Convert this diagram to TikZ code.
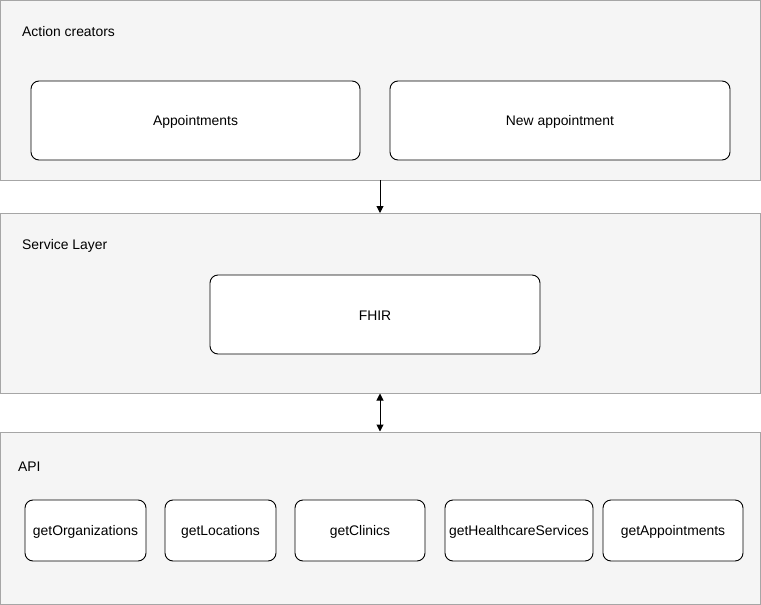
\documentclass[tikz,border=0pt]{standalone}
\usepackage{fontspec}
\setmainfont{Liberation Sans}
\usetikzlibrary{arrows.meta}
\definecolor{panelfill}{HTML}{F5F5F5}
\definecolor{panelline}{HTML}{A6A6A6}
\begin{document}
\begin{tikzpicture}[x=1pt,y=-1pt,
  panel/.style={draw=panelline,fill=panelfill,line width=1pt},
  box/.style={draw=black,fill=white,rounded corners=8pt,line width=0.9pt},
  lbl/.style={anchor=west,inner sep=0pt,font=\fontsize{13.9}{16}\selectfont},
  txt/.style={font=\fontsize{13.9}{16}\selectfont},
  conn/.style={line width=1pt,-{Triangle[length=7pt,width=7pt]}},
  bconn/.style={line width=1pt,{Triangle[length=7pt,width=7pt]}-{Triangle[length=7pt,width=7pt]}}]
\useasboundingbox (0,0) rectangle (761,605);
% panels
\draw[panel] (0.5,0.5) rectangle (760.5,180);
\draw[panel] (0.5,213) rectangle (760.5,393);
\draw[panel] (0.5,432) rectangle (760.5,604.5);
\coordinate (p1s) at (380,180);
\coordinate (p2n) at (380,213);
\coordinate (p2s) at (380,393.5);
\coordinate (p3n) at (380,431.5);
\node[lbl] (l1) at (22,32) {Action creators};
\node[lbl] (l2) at (22,246) {Service Layer};
\node[lbl] (l3) at (18,466.5) {API};
% boxes
\draw[box] (31,81) rectangle (360,160);
\node[txt] (appt) at (195.5,121.5) {Appointments};
\draw[box] (390,81) rectangle (730,160);
\node[txt] (newappt) at (560,121.5) {New appointment};
\draw[box] (210,275) rectangle (540,354);
\node[txt] (fhir) at (375,315.5) {FHIR};
\draw[box] (25,500) rectangle (146,561);
\node[txt] (g1) at (85.5,531.5) {getOrganizations};
\draw[box] (165,500) rectangle (276,561);
\node[txt] (g2) at (220.5,531.5) {getLocations};
\draw[box] (295,500) rectangle (425,561);
\node[txt] (g3) at (360,531.5) {getClinics};
\draw[box] (445,500) rectangle (593,561);
\node[txt] (g4) at (519,531.5) {getHealthcareServices};
\draw[box] (603,500) rectangle (743,561);
\node[txt] (g5) at (673,531.5) {getAppointments};
% connectors
\draw[conn] (p1s) -- (p2n);
\draw[bconn] (p2s) -- (p3n);
\end{tikzpicture}
\end{document}
